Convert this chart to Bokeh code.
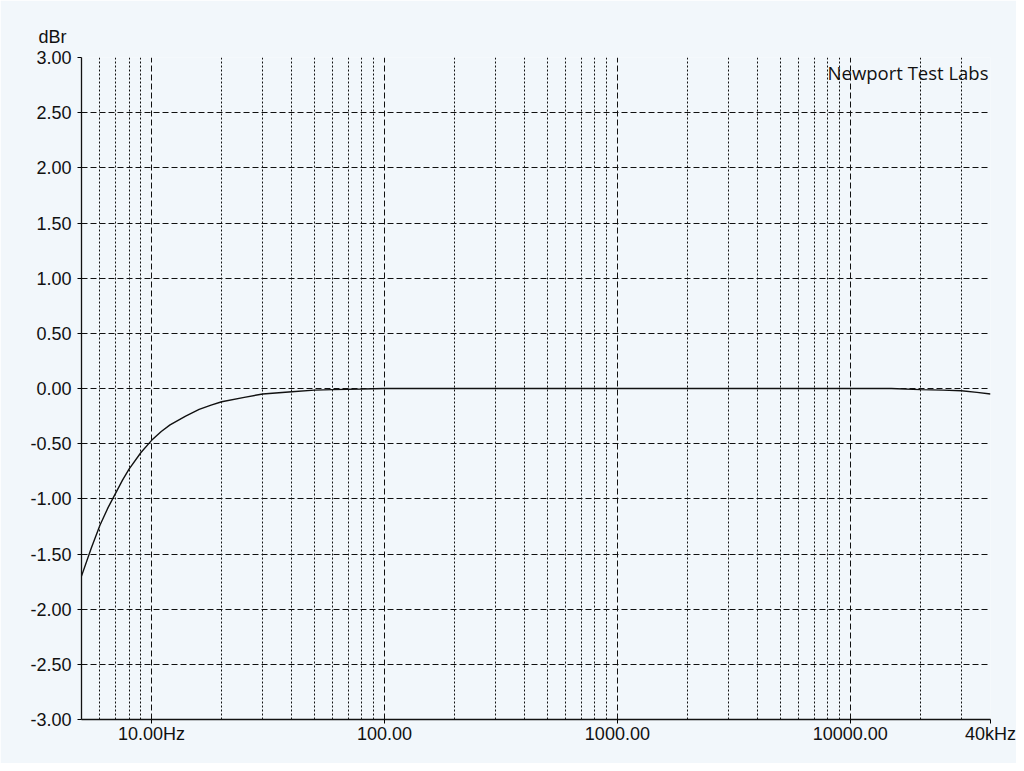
from bokeh.plotting import figure
from bokeh.models import Range1d, FixedTicker, NumeralTickFormatter, Label
from bokeh.embed import file_html
from bokeh.resources import INLINE

# Frequency response data
freq_hz = [5, 5.5, 6, 6.5, 7, 7.5, 8, 9, 10, 11, 12, 14, 16, 18, 20, 25, 30, 40, 50,
           60, 80, 100, 200, 500, 1000, 2000, 5000, 10000, 15000, 20000, 25000,
           30000, 35000, 40000]
level_dbr = [-1.70, -1.45, -1.24, -1.08, -0.95, -0.83, -0.73, -0.58, -0.47, -0.39,
             -0.33, -0.25, -0.19, -0.15, -0.12, -0.08, -0.05, -0.03, -0.015,
             -0.01, -0.005, 0.0, 0.0, 0.0, 0.0, 0.0, 0.0, 0.0, 0.0, -0.01, -0.015,
             -0.02, -0.035, -0.05]

x_major_ticks = [10, 100, 1000, 10000, 40000]
x_tick_labels = ["10.00Hz", "100.00", "1000.00", "10000.00", "40kHz"]
x_minor_ticks = [6, 7, 8, 9,
                 20, 30, 40, 50, 60, 70, 80, 90,
                 200, 300, 400, 500, 600, 700, 800, 900,
                 2000, 3000, 4000, 5000, 6000, 7000, 8000, 9000,
                 20000, 30000]
y_ticks = [-3.0, -2.5, -2.0, -1.5, -1.0, -0.5, 0.0, 0.5, 1.0, 1.5, 2.0, 2.5, 3.0]

BG = "#f2f7fb"
FONT = "Liberation Sans"
INK = "#111111"

p = figure(width=1016, height=763, x_axis_type="log",
           x_range=Range1d(5, 40000), y_range=Range1d(-3, 3),
           output_backend="svg", toolbar_location=None,
           min_border_left=81, min_border_right=26, min_border_top=57, min_border_bottom=44)
p.background_fill_color = BG
p.border_fill_color = BG
p.outline_line_color = None

# "dBr" unit label above the y axis
p.title.text = "dBr"
p.title.align = "left"
p.title.offset = -43
p.title.standoff = 21
p.title.text_font = FONT
p.title.text_font_size = "18px"
p.title.text_font_style = "normal"
p.title.text_color = INK

p.line(freq_hz, level_dbr, line_color=INK, line_width=1.4)

# x axis
xa = p.xaxis[0]
xa.ticker = FixedTicker(ticks=x_major_ticks, minor_ticks=x_minor_ticks)
xa.major_label_overrides = {t: l for t, l in zip(x_major_ticks, x_tick_labels)}
xa.major_label_text_font = FONT
xa.major_label_text_font_size = "18px"
xa.major_label_text_color = INK
xa.major_tick_out = 4
xa.major_tick_in = 0
xa.minor_tick_out = 0
xa.minor_tick_in = 0
xa.major_label_standoff = 0
xa.axis_line_color = INK
xa.axis_line_width = 1.3

# y axis
ya = p.yaxis[0]
ya.ticker = FixedTicker(ticks=y_ticks, minor_ticks=[])
ya.formatter = NumeralTickFormatter(format="0.00")
ya.major_label_text_font = FONT
ya.major_label_text_font_size = "18px"
ya.major_label_text_color = INK
ya.major_tick_out = 4
ya.major_tick_in = 0
ya.minor_tick_out = 0
ya.minor_tick_in = 0
ya.major_label_standoff = 6
ya.axis_line_color = INK
ya.axis_line_width = 1.3

# grids
p.xgrid.grid_line_color = INK
p.xgrid.grid_line_dash = "6 3"
p.xgrid.grid_line_width = 1
p.xgrid.minor_grid_line_color = INK
p.xgrid.minor_grid_line_dash = "2 2"
p.xgrid.minor_grid_line_width = 1
p.ygrid.grid_line_color = INK
p.ygrid.grid_line_dash = "6 3"
p.ygrid.grid_line_width = 1

p.add_layout(Label(x=40000, y=2.975, x_offset=-2, text="Newport Test Labs",
                   text_font="Open Sans", text_font_size="18.5px", text_color=INK,
                   text_align="right", text_baseline="top"))

open("out.html", "w").write(file_html(p, INLINE))
